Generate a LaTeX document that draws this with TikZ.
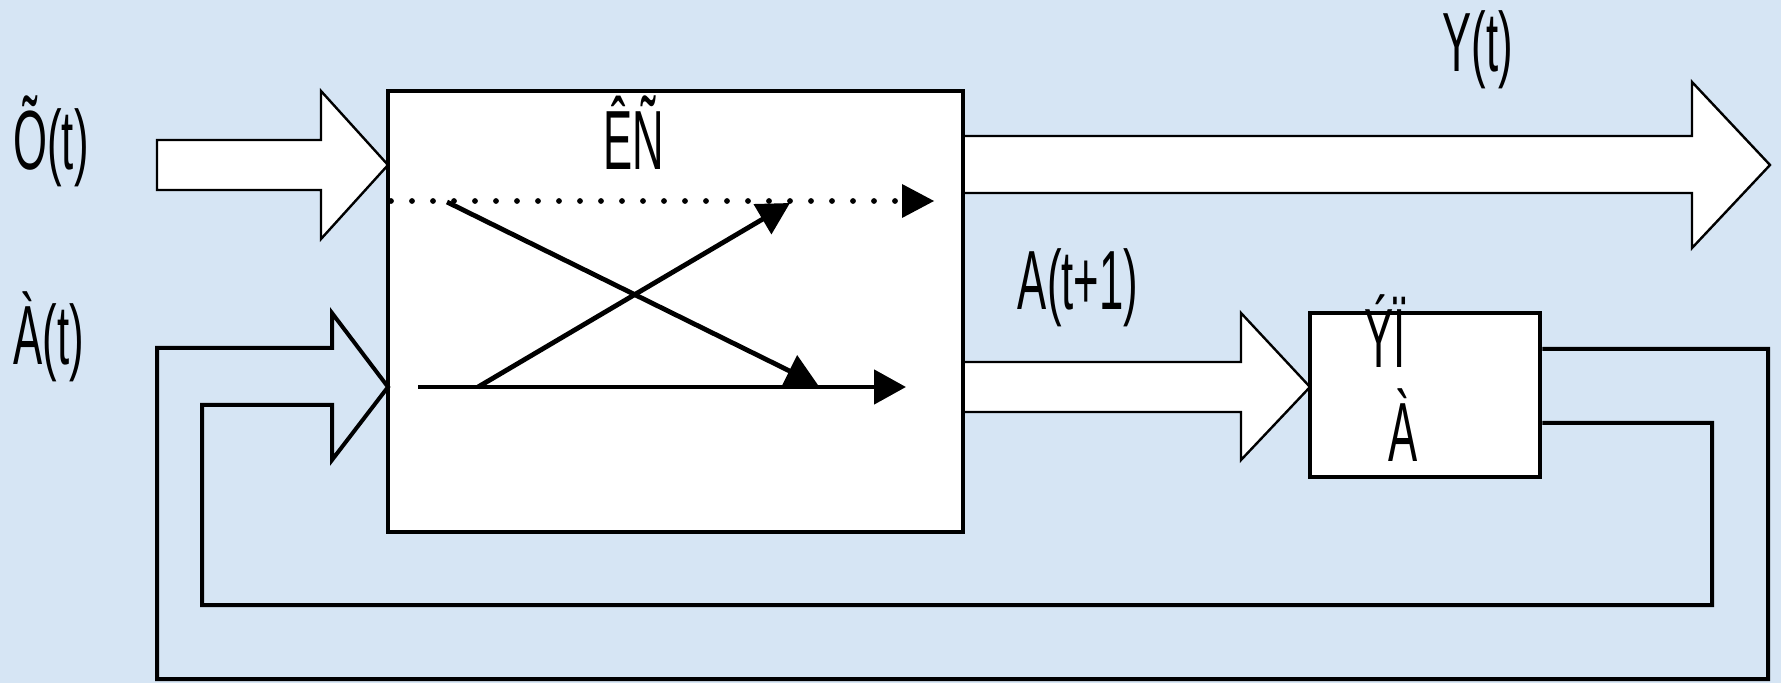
\documentclass[tikz,border=0pt]{standalone}
\usepackage{fontspec}
\setmainfont{Liberation Sans}
\newfontfamily\narrowfont[FakeStretch=0.52]{Liberation Sans}
\usetikzlibrary{arrows.meta,calc}
\definecolor{bgblue}{RGB}{214,229,244}
\begin{document}
\begin{tikzpicture}[x=0.5pt,y=-0.5pt,
  lbl/.style={font=\narrowfont\fontsize{42}{50}\selectfont, inner sep=0pt, anchor=base},
  blk/.style={draw, line width=2.3pt, fill=white, inner sep=0pt},
  fat/.style={draw, line width=1.2pt, fill=white, line join=miter},
  fb/.style={draw, line width=2pt, line join=miter},
  tipline/.style={line width=2.4pt, -{Triangle[length=16pt,width=17pt]}},
  dotline/.style={line width=2.9pt, line cap=round, dash pattern=on 0pt off 10.5pt}
]
\fill[bgblue] (0,0) rectangle (1781,683);
\useasboundingbox (0,0) rectangle (1781,683);

% fat arrows (behind the blocks)
\path[fat] (157,140) -- (321,140) -- (321,91) -- (388,165) -- (321,239) -- (321,190) -- (157,190) -- cycle;
\path[fat] (963,136) -- (1692,136) -- (1692,82) -- (1770,165) -- (1692,248) -- (1692,193) -- (963,193) -- cycle;
\path[fat] (963,362) -- (1241,362) -- (1241,313) -- (1310,387) -- (1241,460) -- (1241,412) -- (963,412) -- cycle;

% blocks
\node[blk, minimum width=287.5pt, minimum height=220.5pt] (main) at (675.5,311.5) {};
\node[blk, minimum width=115pt, minimum height=82pt] (mem) at (1425,395) {};

% feedback double line (hollow arrow)
\coordinate (fo) at (mem.east |- 0,349);
\coordinate (fi) at (mem.east |- 0,423);
\draw[fb] (fo) -- (1768,349) -- (1768,679) -- (157,679) -- (157,348) -- (332,348) -- (332,313)
  -- (388,387) -- (332,460) -- (332,405) -- (202,405) -- (202,605) -- (1712,605) -- (1712,423) -- (fi);

% inner arrows of the main block
\coordinate (d0) at (391,201);
\coordinate (d1) at (902,201);
\coordinate (d2) at (934,201);
\coordinate (s0) at (418,387);
\coordinate (s1) at (906,387);
\coordinate (a0) at (447,202);
\coordinate (a1) at (818,385);
\coordinate (b0) at (478,387);
\coordinate (b1) at (790,203);
\draw[dotline] (d0) -- (d1);
\fill (d1 |- 0,184) -- (d2) -- (d1 |- 0,218) -- cycle;
\draw[tipline] (s0) -- (s1);
\draw[tipline] (a0) -- (a1);
\draw[tipline] (b0) -- (b1);

% labels
\node[lbl] (lx) at (51,170) {Õ(t)};
\node[lbl] (la) at (49,365) {À(t)};
\node[lbl] (ly) at (1478,72) {Y(t)};
\node[lbl] (la1) at (1078,310) {A(t+1)};
\node[lbl] (lks) at (634,170) {ÊÑ};
\node[lbl] (lm1) at (1385,368) {ÝÏ};
\node[lbl] (lm2) at (1403,462) {À};
\end{tikzpicture}
\end{document}
